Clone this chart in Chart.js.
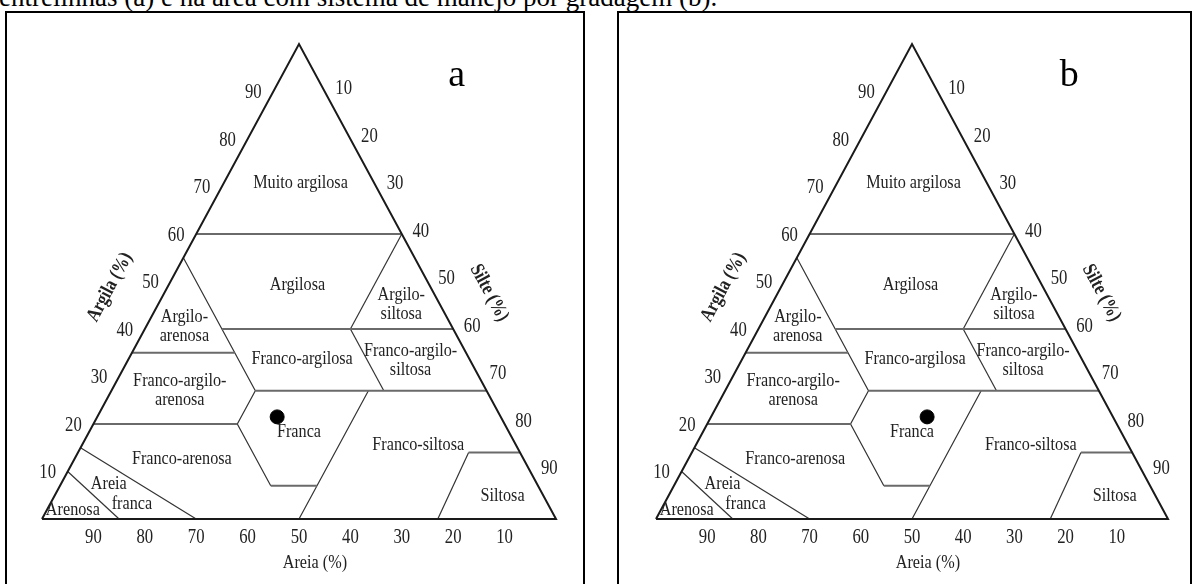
<!DOCTYPE html>
<html>
<head>
<meta charset="utf-8">
<script src="https://cdn.jsdelivr.net/npm/chart.js@4.4.1/dist/chart.umd.min.js"></script>
<style>
    body { margin: 0; background: #fff; width: 1195px; height: 584px; overflow: hidden; position: relative; font-family: "Liberation Serif", serif; }
    .legenda { position: absolute; left: -1px; top: -16px; font-size: 27px; line-height: 27px; white-space: nowrap; color: #000; }
    .quadro { position: absolute; border: 2.5px solid #000; box-sizing: border-box; }
    #qa { left: 5px; top: 11px; width: 580px; height: 640px; }
    #qb { left: 617px; top: 11px; width: 575px; height: 640px; }
    canvas { position: absolute; top: 0; }
    #ga { left: 0; }
    #gb { left: 600px; }
</style>
</head>
<body>
<div class="legenda">entrelinhas (a) e na área com sistema de manejo por gradagem (b).</div>
<div class="quadro" id="qa"></div>
<div class="quadro" id="qb"></div>
<canvas id="ga" width="600" height="584"></canvas>
<canvas id="gb" width="595" height="584"></canvas>

<script>
// Rótulos dos eixos (%)
const areiaTicks = [90, 80, 70, 60, 50, 40, 30, 20, 10];
const argilaTicks = [10, 20, 30, 40, 50, 60, 70, 80, 90];
const silteTicks = [10, 20, 30, 40, 50, 60, 70, 80, 90];

// Amostras [areia, argila]
const amostraA = [[43.5, 21.5]];
const amostraB = [[36.3, 21.5]];

// Triângulo e divisas das classes texturais, pontos [areia, argila]
const contorno = [[100, 0], [0, 100], [0, 0], [100, 0]];
const divisasHoriz = [
    [[40, 60], [0, 60]],
    [[45, 40], [0, 40]],
    [[65, 35], [45, 35]],
    [[45, 27], [0, 27]],
    [[80, 20], [52, 20]],
    [[52, 7], [43, 7]],
    [[10, 14], [0, 14]]
];
const divisasDiag = [
    [[45, 55], [45, 27], [52, 20], [52, 7]],
    [[50, 0], [43, 7], [23, 27]],
    [[20, 40], [20, 27]],
    [[20, 40], [0, 60]],
    [[85, 15], [70, 0]],
    [[90, 10], [85, 0]],
    [[23, 0], [10, 14]]
];

// Nomes das classes e posição no plano do triângulo [x, y]
const classes = [
    ['Muito argilosa'], ['Argilosa'], ['Argilo-', 'siltosa'], ['Argilo-', 'arenosa'],
    ['Franco-argilosa'], ['Franco-argilo-', 'siltosa'], ['Franco-argilo-', 'arenosa'],
    ['Franca'], ['Franco-arenosa'], ['Franco-siltosa'], ['Siltosa'],
    ['Areia'], ['franca'], ['Arenosa']
];
const posClasses = [
    [50.3, 70.8], [49.7, 49.3], [69.9, 45.3], [27.7, 40.5],
    [50.6, 33.7], [71.7, 33.4], [26.8, 27.2],
    [50, 18.4], [27.2, 12.6], [73.2, 15.7], [89.6, 4.8],
    [13, 7.5], [17.5, 3.2], [6, 1.9]
];

// areia/argila -> plano (x ao longo da base, y = argila)
function plano(p) {
    return { x: 100 - p[0] - p[1] / 2, y: p[1] };
}

function linha(pontos, cor, largura) {
    return {
        data: pontos.map(plano),
        showLine: true,
        borderColor: cor,
        borderWidth: largura,
        pointRadius: 0,
        clip: false
    };
}

function texto(ctx, txt, x, y, tam, sx, sy, ang, negrito) {
    ctx.save();
    ctx.translate(x, y);
    if (ang) ctx.rotate(ang);
    ctx.scale(sx, sy);
    ctx.font = (negrito ? 'bold ' : '') + tam + 'px "Liberation Serif", serif';
    ctx.fillStyle = '#222';
    ctx.textAlign = 'center';
    ctx.textBaseline = 'middle';
    ctx.fillText(txt, 0, 0);
    ctx.restore();
}

const rotulos = {
    id: 'rotulos',
    afterDraw(chart) {
        const ctx = chart.ctx;
        const sx = chart.scales.x, sy = chart.scales.y;
        const px = v => sx.getPixelForValue(v);
        const py = v => sy.getPixelForValue(v);

        argilaTicks.forEach(c => {
            const p = plano([100 - c, c]);
            texto(ctx, String(c), px(p.x) - 20, py(p.y) + 1, 19, 0.88, 1.12);
        });
        silteTicks.forEach(l => {
            const p = plano([0, 100 - l]);
            texto(ctx, String(l), px(p.x) + 19, py(p.y) - 3, 19, 0.88, 1.12);
        });
        areiaTicks.forEach(s => {
            const p = plano([s, 0]);
            texto(ctx, String(s), px(p.x), py(p.y) + 18, 19, 0.88, 1.12);
        });

        classes.forEach((nome, i) => {
            const x = px(posClasses[i][0]), y = py(posClasses[i][1]);
            const n = nome.length;
            nome.forEach((t, j) => {
                texto(ctx, t, x, y + (j - (n - 1) / 2) * 19, 18, 0.9, 1.1);
            });
        });

        const ang = Math.atan2(py(100) - py(0), px(50) - px(0));
        texto(ctx, 'Areia (%)', px(53.1), py(-9.3), 18, 0.9, 1.1);
        texto(ctx, 'Argila (%)', px(13.2), py(48.8), 18, 0.9, 1.1, ang, true);
        texto(ctx, 'Silte (%)', px(87), py(47.6), 18, 0.9, 1.1, -ang, true);

        ctx.save();
        ctx.font = '38px "Liberation Serif", serif';
        ctx.fillStyle = '#000';
        ctx.textAlign = 'center';
        ctx.textBaseline = 'alphabetic';
        ctx.fillText(chart.options.letra, px(80.7), py(93) + 9);
        ctx.restore();
    }
};

function triangulo(id, amostra, letra, padding) {
    const datasets = [linha(contorno, '#1a1a1a', 2)];
    divisasHoriz.forEach(d => datasets.push(linha(d, '#6a6a6a', 1.8)));
    divisasDiag.forEach(d => datasets.push(linha(d, '#333', 1.2)));
    datasets.push({
        data: amostra.map(plano),
        backgroundColor: '#000',
        borderColor: '#000',
        pointRadius: 7,
        clip: false
    });

    new Chart(document.getElementById(id), {
        type: 'scatter',
        data: { datasets: datasets },
        options: {
            letra: letra,
            responsive: false,
            animation: false,
            layout: { padding: padding },
            plugins: { legend: { display: false }, tooltip: { enabled: false } },
            scales: {
                x: { type: 'linear', min: 0, max: 100, display: false },
                y: { type: 'linear', min: 0, max: 100, display: false }
            }
        },
        plugins: [rotulos]
    });
}

triangulo('ga', amostraA, 'a', { left: 42, right: 44, top: 44, bottom: 65 });
triangulo('gb', amostraB, 'b', { left: 56, right: 27, top: 44, bottom: 65 });
</script>
</body>
</html>
